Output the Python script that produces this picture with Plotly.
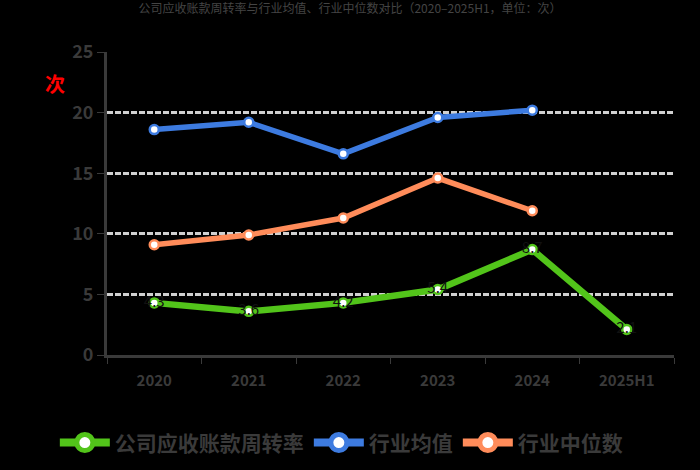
import plotly.graph_objects as go

categories = ["2020", "2021", "2022", "2023", "2024", "2025H1"]
company = [4.3, 3.6, 4.3, 5.4, 8.7, 2.1]
company_labels = ["4.3", "3.6", "4.2", "5.4", "8.7", "2.1"]
industry_mean = [18.6, 19.2, 16.6, 19.6, 20.2, None]
industry_median = [9.1, 9.9, 11.3, 14.6, 11.9, None]
y_ticks = [0, 5, 10, 15, 20, 25]

series = [
    ("公司应收账款周转率", company, "#52c41a", 6.5),
    ("行业均值", industry_mean, "#3d7be0", 5.5),
    ("行业中位数", industry_median, "#ff8c5a", 5.5),
]

fig = go.Figure()

for i, (name, vals, color, w) in enumerate(series):
    if i == 0:
        kw = dict(mode="lines+markers+text", text=company_labels, textposition="middle center",
                  textfont=dict(color="#111111", size=15, family="Noto Sans CJK SC"))
    else:
        kw = dict(mode="lines+markers")
    fig.add_trace(go.Scatter(
        x=categories, y=vals, name=name, showlegend=False,
        line=dict(color=color, width=w),
        marker=dict(symbol="circle", size=9, color="white", line=dict(color=color, width=2.5)),
        **kw,
    ))

for name, vals, color, w in series:
    fig.add_trace(go.Scatter(
        x=[None], y=[None], name=name, mode="lines+markers", showlegend=True,
        line=dict(color=color, width=8),
        marker=dict(symbol="circle", size=16, color="white", line=dict(color=color, width=6)),
    ))

fig.update_layout(
    width=700, height=470,
    paper_bgcolor="black", plot_bgcolor="black",
    margin=dict(l=107, r=26, t=52, b=115, autoexpand=False),
    font=dict(family="Noto Sans CJK SC", color="#3a3a3a"),
    title=dict(text="公司应收账款周转率与行业均值、行业中位数对比（2020–2025H1，单位：次）",
               x=0.5, xanchor="center", y=0.99, yanchor="top",
               font=dict(size=12, color="#444444")),
    showlegend=True,
    legend=dict(orientation="h", x=-0.092, xanchor="left", y=-0.29, yanchor="middle",
                font=dict(size=21, color="#3a3a3a", weight="bold"), itemwidth=50,
                bgcolor="rgba(0,0,0,0)"),
    annotations=[dict(text="次", x=0.0, xref="paper", xanchor="center", xshift=-52,
                      y=22.4, yref="y", yanchor="middle", showarrow=False,
                      font=dict(size=20, color="red", weight="bold"))],
)

fig.update_xaxes(
    type="category", showgrid=False, showline=True, linecolor="#3a3a3a", linewidth=3,
    ticks="outside", ticklen=6, tickcolor="#3a3a3a", tickson="boundaries",
    ticklabelstandoff=10,
    tickfont=dict(size=15, color="#3a3a3a", weight="bold"), range=[-0.5, 5.5],
)
fig.update_yaxes(
    range=[0, 25], tickvals=y_ticks, showline=True, linecolor="#3a3a3a", linewidth=3,
    ticks="outside", ticklen=7, tickcolor="#3a3a3a",
    showgrid=True, gridcolor="#d0d0d0", gridwidth=3, griddash="6px,2px",
    zeroline=False, tickfont=dict(size=18, color="#3a3a3a", weight="bold"),
)

fig.write_html("out.html", config={"displayModeBar": False},
               post_script="document.body.style.margin='0';document.body.style.background='black';")
